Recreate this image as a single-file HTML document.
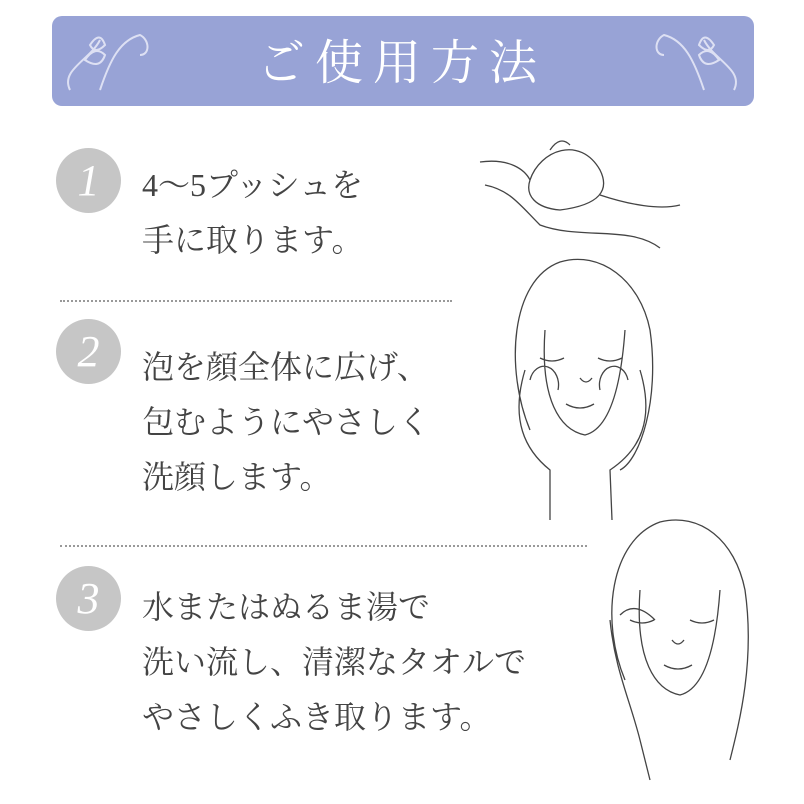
<!DOCTYPE html>
<html><head><meta charset="utf-8"><style>
body{margin:0;background:#fff;width:804px;height:804px;overflow:hidden;position:relative;font-family:"Liberation Serif","Noto Serif CJK JP","Noto Serif CJK SC",serif}
.hdr{position:absolute;left:52px;top:16px;width:702px;height:90px;background:#98a3d6;border-radius:10px}
.ttl{position:absolute;left:0;width:804px;top:32px;text-align:center;color:#fff;font-size:48px;letter-spacing:10px;line-height:64px}
.c{position:absolute;width:65px;height:65px;border-radius:50%;background:#c6c6c6;color:#fff;font-style:italic;font-size:44px;text-align:center;line-height:65px}
.t{position:absolute;left:142px;color:#444;font-size:32px;line-height:55px;letter-spacing:0px;white-space:nowrap}
.dl{position:absolute;left:60px;border-top:2px dotted #999;height:0}
</style></head><body>
<div class="hdr"></div>
<div class="ttl">ご使用方法</div>
<svg style="position:absolute;left:0;top:0" width="804" height="804" fill="none" stroke="#dde0f3" stroke-width="2">
<path d="M70 90 C60 70 90 60 100 40 M100 90 C110 60 120 40 140 35 C150 40 150 55 140 55 M85 60 q10 -15 20 -5 q-5 15 -20 5z M90 45 q10 -15 15 0 q-10 10 -15 0z"/>
<path d="M734 90 C744 70 714 60 704 40 M704 90 C694 60 684 40 664 35 C654 40 654 55 664 55 M719 60 q-10 -15 -20 -5 q5 15 20 5z M714 45 q-10 -15 -15 0 q10 10 15 0z"/>
</svg>
<div class="c" style="left:56px;top:148px">1</div>
<div class="c" style="left:56px;top:319px">2</div>
<div class="c" style="left:56px;top:566px">3</div>
<div class="t" style="top:158px">4〜5プッシュを<br>手に取ります。</div>
<div class="dl" style="top:300px;width:392px"></div>
<div class="t" style="top:340px">泡を顔全体に広げ、<br>包むようにやさしく<br>洗顔します。</div>
<div class="dl" style="top:545px;width:527px"></div>
<div class="t" style="top:580px">水またはぬるま湯で<br>洗い流し、清潔なタオルで<br>やさしくふき取ります。</div>
<svg style="position:absolute;left:0;top:0" width="804" height="804" fill="none" stroke="#444" stroke-width="1.3">
<path d="M480 162 C510 158 525 170 530 180 M485 185 C510 190 520 205 540 225 C580 240 630 225 660 248 M530 180 C540 150 580 135 600 170 C610 190 600 205 560 210 C535 208 525 195 530 180 M550 150 q10 -15 20 -5 M600 195 C630 205 660 210 680 205"/>
<path d="M530 430 C505 370 510 280 560 262 C600 250 640 280 650 330 C660 400 640 460 620 470 M545 330 C540 400 560 430 585 435 C605 430 620 400 625 330 M540 358 q12 6 24 0 M598 358 q12 6 24 0 M580 378 q6 8 12 0 M566 404 q14 8 28 0 M525 370 C510 420 525 450 550 470 L550 520 M640 370 C655 420 640 450 610 470 L612 520 M530 380 a14 18 0 1 1 28 10 M600 390 a14 18 0 1 1 28 -10"/>
<path d="M625 680 C600 620 610 540 660 522 C700 512 735 540 745 590 C755 660 740 720 730 760 M640 590 C635 660 655 690 680 695 C700 690 715 660 720 590 M630 620 q12 6 24 0 M690 620 q12 6 24 0 M672 640 q6 8 12 0 M664 665 q14 8 28 0 M610 620 C615 670 630 700 640 740 L650 780 M620 615 q15 -15 35 5"/>
</svg>
</body></html>
